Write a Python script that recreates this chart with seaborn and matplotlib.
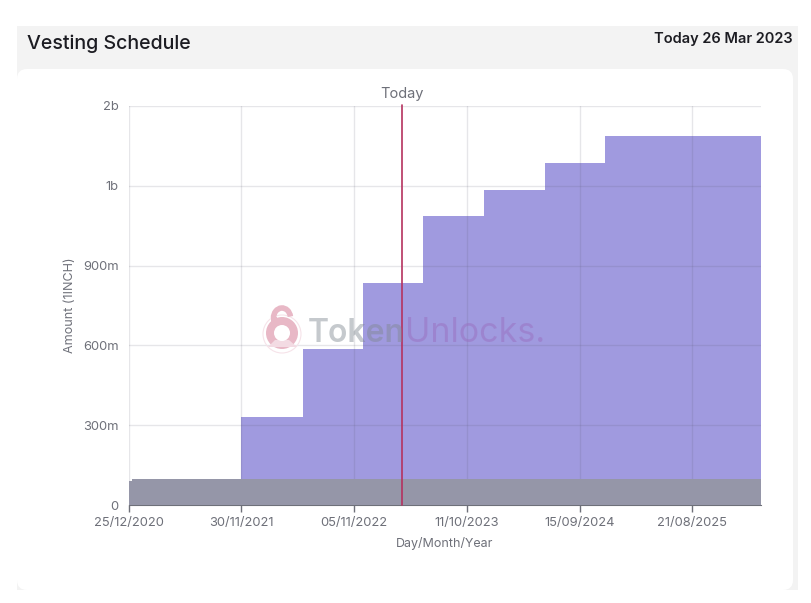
"""Vesting schedule chart."""

import matplotlib.patches as patches
from matplotlib import pyplot as plt
import pandas as pd
import seaborn as sns


def panel(fig):
  bg = fig.add_axes([0, 0, 1, 1], zorder=-1)
  bg.set_xlim(0, 811)
  bg.set_ylim(603, 0)
  bg.axis('off')
  bg.add_patch(patches.Rectangle((17, 26), 781, 564, color='#f3f3f3', lw=0))
  bg.add_patch(patches.FancyBboxPatch(
      (17 + 10, 69 + 10), 776 - 20, 521 - 20, boxstyle='round,pad=10,rounding_size=10',
      color='white', lw=0))
  bg.text(27, 44, 'Vesting Schedule', fontsize=14.1, color='#1c1c22', va='center', fontweight='medium')
  bg.text(793, 39, 'Today 26 Mar 2023', fontsize=10.5, color='#1c1c22', va='center', ha='right', fontweight='semibold')


def watermark(fig):
  top = fig.add_axes([0, 0, 1, 1], zorder=5)
  top.set_xlim(0, 811)
  top.set_ylim(603, 0)
  top.axis('off')
  pink = '#e8b8c6'
  top.add_patch(patches.Circle((282, 334), 19, fc='none', ec='#f6e3e9', lw=0.8))
  top.add_patch(patches.Arc((282, 318), 17, 20, theta1=180, theta2=350, ec=pink, lw=4))
  top.add_patch(patches.Rectangle((271, 317), 5.5, 11, fc=pink, ec='none'))
  top.add_patch(patches.Circle((282, 333), 16, fc=pink, ec='none'))
  top.add_patch(patches.Polygon([(275, 340), (289, 340), (297, 347), (268, 347)], fc='#f3dbe3', ec='none'))
  top.add_patch(patches.Circle((282, 333), 8, fc='white', ec='none'))
  top.text(308, 333, 'Token', fontsize=23, color='#7f8890', alpha=.45, va='center', fontweight='semibold')
  top.text(405, 333, 'Unlocks.', fontsize=24.5, color='#9a70c0', alpha=.5, va='center')


def vesting_chart(df, figsize=(8.11, 6.03)):
  sns.set_style('white')
  plt.rcParams['font.family'] = ['Inter', 'DejaVu Sans']
  fig = plt.figure(figsize=figsize, dpi=100)
  panel(fig)
  ax = fig.add_axes([129 / 811, 1 - 505 / 603, 632 / 811, 399 / 603])
  ax.patch.set_alpha(0)
  ax.fill_between(df['date'], df['unlocked'], step='post', color='#a09adf', lw=0, zorder=2)
  ax.fill_between(df['date'], df['insiders'], step='post', color='#9596a8', lw=0, zorder=3)
  sns.lineplot(data=df, x='date', y='insiders', drawstyle='steps-post', color='#9596a8', lw=.6, ax=ax, zorder=3)

  xticks = pd.to_datetime(['2020-12-25', '2021-11-29', '2022-11-04', '2023-10-10', '2024-09-14', '2025-08-20'])
  ax.set_xticks(xticks, ['25/12/2020', '30/11/2021', '05/11/2022', '11/10/2023', '15/09/2024', '21/08/2025'])
  ax.set_yticks([0, 300e6, 600e6, 900e6, 1200e6, 1500e6], ['0', '300m', '600m', '900m', '1b', '2b'])
  ax.set_xlim(df['date'].iloc[0], df['date'].iloc[-1])
  ax.set_ylim(0, 1500e6)
  ax.grid(color='#5a5a70', alpha=.15, lw=1, zorder=4)
  ax.set_axisbelow(False)
  ax.tick_params(axis='x', bottom=True, length=5, width=1, color='#6e7079', labelsize=9.3, labelcolor='#6e7079', pad=3.5)
  ax.tick_params(axis='y', left=False, length=0, labelsize=9.3, labelcolor='#6e7079', pad=7.5)
  sns.despine(ax=ax, top=True, right=True, left=True)
  ax.spines['bottom'].set_color('#6e7079')

  today = pd.Timestamp('2023-03-27')
  ax.axvline(today, color='#b5325f', lw=1.2, zorder=6, ymax=1.003, clip_on=False)
  ax.text(today, 1.012, 'Today', transform=ax.get_xaxis_transform(), ha='center', va='bottom', fontsize=10.5, color='#6e7079')
  ax.set_xlabel('Day/Month/Year', fontsize=9, color='#6e7079', labelpad=6)
  ax.set_ylabel('Amount (1INCH)', fontsize=9, color='#6e7079', labelpad=5)
  watermark(fig)
  return fig


data = pd.DataFrame({
    'date': pd.to_datetime(['2020-12-25', '2021-01-03', '2021-11-29', '2022-06-03', '2022-12-01',
                            '2023-05-31', '2023-12-01', '2024-06-03', '2024-11-30', '2026-03-15']),
    'unlocked': [90e6, 98e6, 330e6, 585e6, 835e6, 1085e6, 1185e6, 1285e6, 1388e6, 1388e6],
    'insiders': [90e6, 98e6, 98e6, 98e6, 98e6, 98e6, 98e6, 98e6, 98e6, 98e6],
})
chart = vesting_chart(data)
chart.savefig('out.png', dpi=100)
